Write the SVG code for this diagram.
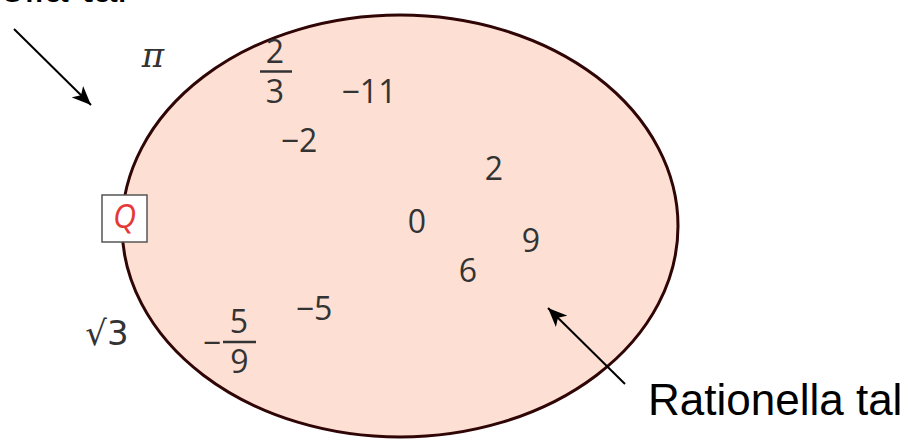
<svg xmlns="http://www.w3.org/2000/svg" width="904" height="439" viewBox="0 0 904 439">
  <defs>
    <marker id="arrow" markerUnits="userSpaceOnUse" markerWidth="22" markerHeight="16" refX="19" refY="8" orient="auto">
      <path d="M0,0 L19,8 L0,16 L5,8 Z" fill="#000"/>
    </marker>
    <style>
      .num { font-family: "Open Sans", "DejaVu Sans", sans-serif; font-size: 32px; fill: #333; text-anchor: middle; }
      .bar { stroke: #333; stroke-width: 2.5; }
      .lbl { font-family: "Liberation Sans", Arial, sans-serif; font-size: 44px; fill: #000; }
      .conn { stroke: #000; stroke-width: 2; fill: none; marker-end: url(#arrow); }
    </style>
  </defs>
  <rect width="904" height="439" fill="#fff"/>

  <g id="rational-set">
    <ellipse cx="400" cy="226" rx="278" ry="211" fill="#fde0d3" stroke="#300505" stroke-width="3"/>
  </g>

  <g id="label-q">
    <rect x="102" y="195" width="45" height="47" fill="#fff" stroke="#555" stroke-width="1.5"/>
    <text x="124.5" y="228" style="font-family:'Open Sans','DejaVu Sans',sans-serif;font-size:32px;font-style:italic;fill:#e53935;text-anchor:middle">Q</text>
  </g>

  <g id="irrationals">
    <text x="153" y="67" style="font-family:'DejaVu Serif',serif;font-size:34px;font-style:italic;fill:#333;text-anchor:middle">π</text>
    <text x="107" y="345" style="font-family:'DejaVu Sans',sans-serif;font-size:34px;fill:#333;text-anchor:middle">√3</text>
  </g>

  <g id="rationals">
    <text class="num" x="275" y="63">2</text>
    <line class="bar" x1="260" y1="71.5" x2="292" y2="71.5"/>
    <text class="num" x="275" y="103">3</text>
    <text class="num" x="369" y="103">−11</text>
    <text class="num" x="299" y="152">−2</text>
    <text class="num" x="494" y="180">2</text>
    <text class="num" x="417" y="233">0</text>
    <text class="num" x="531" y="252">9</text>
    <text class="num" x="468" y="282">6</text>
    <text class="num" x="314" y="320">−5</text>
    <text class="num" x="212" y="353.5">−</text>
    <text class="num" x="239" y="333">5</text>
    <line class="bar" x1="223" y1="342" x2="256" y2="342"/>
    <text class="num" x="239.5" y="373">9</text>
  </g>

  <g id="captions">
    <text class="lbl" x="-137" y="2">Irrationella tal</text>
    <text class="lbl" x="648" y="415">Rationella tal</text>
  </g>

  <g id="connectors">
    <line class="conn" x1="14" y1="29" x2="91" y2="105"/>
    <line class="conn" x1="625" y1="384" x2="548" y2="308"/>
  </g>
</svg>
